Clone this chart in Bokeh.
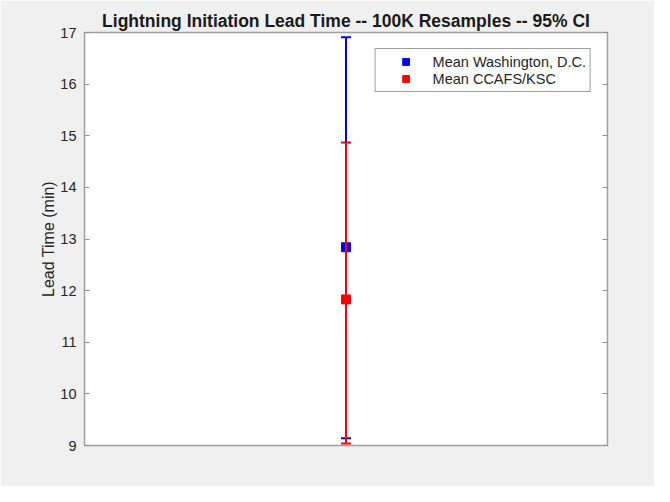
from bokeh.plotting import figure
from bokeh.models import Range1d, LinearAxis, FixedTicker, Legend, LegendItem, ColumnDataSource
from bokeh.embed import file_html
from bokeh.resources import INLINE

# ---- data ----
series_names = ["Mean Washington, D.C.", "Mean CCAFS/KSC"]
series_colors = ["#0000ff", "#ff0000"]
x_pos = [1, 1]
means = [12.84, 11.83]
lower = [9.14, 9.04]
upper = [16.91, 14.87]
y_ticks = [9, 10, 11, 12, 13, 14, 15, 16, 17]

FONT = "Liberation Sans"
BG = "#f0f0f0"

p = figure(width=654, height=486, output_backend="svg", toolbar_location=None,
           x_range=Range1d(0.5, 1.5), y_range=Range1d(9, 17),
           min_border_left=84, min_border_right=47, min_border_top=32, min_border_bottom=41,
           background_fill_color="white", border_fill_color=BG,
           title="Lightning Initiation Lead Time -- 100K Resamples -- 95% CI")

p.title.align = "center"
p.title.text_font = FONT
p.title.text_font_size = "17.5px"
p.title.text_font_style = "bold"
p.title.text_color = "#1a1a1a"
p.title.standoff = 4

p.outline_line_color = "#a0a0a0"
p.outline_line_width = 1.5
p.grid.visible = False

p.xaxis.visible = False

ya = p.yaxis[0]
ya.ticker = FixedTicker(ticks=y_ticks)
ya.axis_line_color = None
ya.major_tick_in = 5
ya.major_tick_out = 0
ya.minor_tick_line_color = None
ya.major_tick_line_color = "#909090"
ya.major_label_text_font = FONT
ya.major_label_text_font_size = "14.5px"
ya.major_label_text_color = "#262626"
ya.major_label_standoff = 8
ya.axis_label = "Lead Time (min)"
ya.axis_label_text_font = FONT
ya.axis_label_text_font_size = "16px"
ya.axis_label_text_font_style = "normal"
ya.axis_label_text_color = "#262626"
ya.axis_label_standoff = 0

ra = LinearAxis(ticker=FixedTicker(ticks=y_ticks), axis_line_color=None,
                major_tick_in=5, major_tick_out=0, minor_tick_line_color=None,
                major_tick_line_color="#909090", major_label_text_color=None,
                major_label_overrides={t: "" for t in y_ticks})
p.add_layout(ra, "right")

items = []
for i in range(len(series_names)):
    src = ColumnDataSource(dict(x=[x_pos[i]], m=[means[i]], lo=[lower[i]], hi=[upper[i]]))
    seg = p.segment(x0="x", y0="lo", x1="x", y1="hi", source=src,
                    line_color=series_colors[i], line_width=2)
    cap_lo = p.scatter(x="x", y="lo", source=src, marker="dash", size=10,
                       line_color=series_colors[i], line_width=2)
    cap_hi = p.scatter(x="x", y="hi", source=src, marker="dash", size=10,
                       line_color=series_colors[i], line_width=2)
    sq = p.scatter(x="x", y="m", source=src, marker="square", size=9,
                   fill_color=series_colors[i], line_color=series_colors[i])
    items.append(LegendItem(label=series_names[i], renderers=[sq]))

legend = Legend(items=items, location="top_right",
                label_text_font=FONT, label_text_font_size="14.5px",
                label_text_color="#262626",
                border_line_color="#404040", border_line_width=1,
                background_fill_color="white", background_fill_alpha=1,
                glyph_width=52, glyph_height=17, label_height=17,
                label_standoff=1, spacing=0, padding=4, margin=16)
p.add_layout(legend)

open("out.html", "w").write(file_html(p, INLINE))
